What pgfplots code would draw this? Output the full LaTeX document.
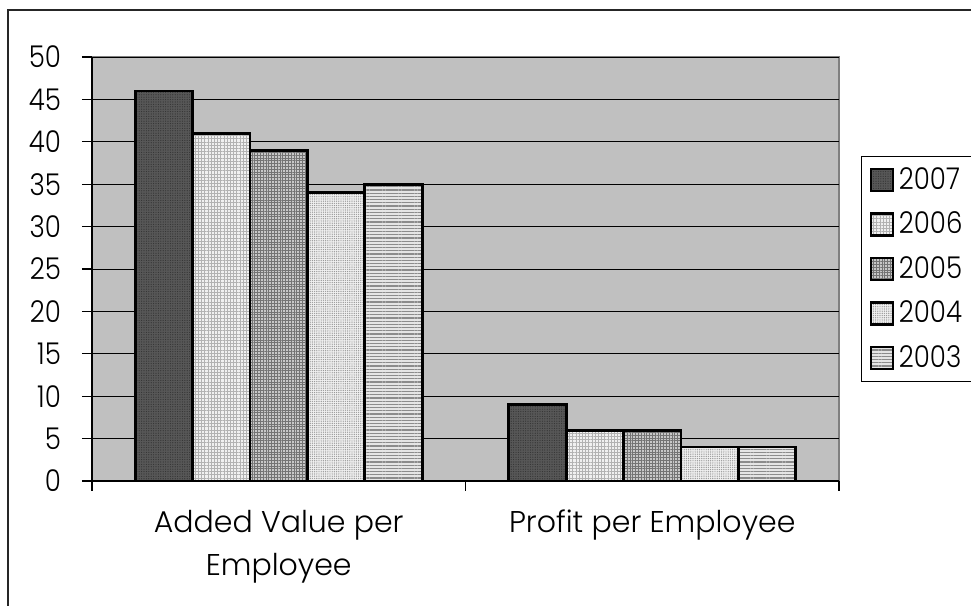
\documentclass[border=0pt]{standalone}
\usepackage{pgfplots}
\pgfplotsset{compat=1.18}
\usetikzlibrary{patterns,patterns.meta}
\usepackage{fontspec}
\setmainfont{Poppins Light}[FakeStretch=0.87]
\newfontfamily\labelfont{Poppins Light}
\definecolor{plotbg}{HTML}{C0C0C0}
\definecolor{plotedge}{HTML}{808080}
\begin{document}
\begin{tikzpicture}
\useasboundingbox (0,0) rectangle (485.5pt,303pt);
\fill[white] (0,0) rectangle (485.5pt,303pt);
\draw[black!85, line width=1pt] (4pt,0) -- (4pt,298pt) -- (490pt,298pt);
\begin{axis}[
  at={(46pt,62.5pt)}, anchor=south west,
  width=373.5pt, height=212pt, scale only axis,
  ybar=0pt, bar width=0.1537,
  xmin=-0.5, xmax=1.5, ymin=0, ymax=50,
  ytick={0,5,...,50},
  xtick={-0.5,0.5,1.5},
  x tick label as interval,
  xticklabels={{Added Value per\\Employee},{Profit per Employee}},
  xticklabel style={align=center, font=\labelfont\fontsize{15}{21.5}\selectfont, yshift=-6pt},
  yticklabel style={font=\fontsize{15}{17}\selectfont, xshift=-7pt},
  /pgf/number format/assume math mode=true,
  axis lines*=left,
  axis line style={black, line width=1pt},
  tick align=outside, major tick length=5pt,
  tick style={black, line width=0.6pt},
  ymajorgrids, major grid style={black, line width=0.5pt},
  axis background/.style={fill=plotbg, draw=plotedge, line width=1.2pt},
  every axis plot/.append style={draw=black, line width=1.4pt},
  legend image code/.code={\draw[#1, line width=1.2pt] (0pt,-5.5pt) rectangle (11pt,5.5pt);},
  legend style={at={(1.0295,0.7665)}, anchor=north west, draw=black, line width=0.5pt,
    font=\fontsize{15}{17}\selectfont, row sep=5.8pt, inner xsep=4pt, inner ysep=3.5pt,
    nodes={inner xsep=2.5pt}},
  legend cell align=left,
]
\addplot[fill=black!66, postaction={pattern={Dots[distance=1.2pt,radius=0.3pt]}, pattern color=black!80}]
  coordinates {(0,46) (1,9)};
\addplot[fill=black!6, postaction={pattern={Lines[angle=0,distance=1.6pt,line width=0.4pt]}, pattern color=black!30},
  postaction={pattern={Lines[angle=90,distance=1.6pt,line width=0.4pt]}, pattern color=black!30}]
  coordinates {(0,41) (1,6)};
\addplot[fill=black!22, postaction={pattern={Lines[angle=0,distance=1.4pt,line width=0.45pt]}, pattern color=black!55},
  postaction={pattern={Lines[angle=90,distance=1.4pt,line width=0.45pt]}, pattern color=black!55}]
  coordinates {(0,39) (1,6)};
\addplot[fill=black!6, postaction={pattern={Dots[distance=1.1pt,radius=0.35pt]}, pattern color=black!40}]
  coordinates {(0,34) (1,4)};
\addplot[fill=black!10, postaction={pattern={Lines[angle=0,distance=1.6pt,line width=0.6pt]}, pattern color=black!45}]
  coordinates {(0,35) (1,4)};
\legend{2007,2006,2005,2004,2003}
\end{axis}
\end{tikzpicture}
\end{document}
